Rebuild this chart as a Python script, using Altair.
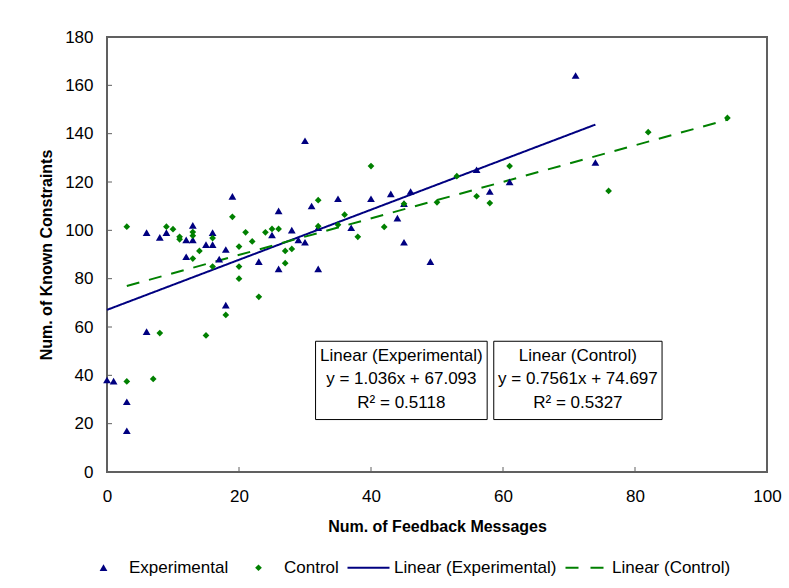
import altair as alt
import pandas as pd

# ---- data ----
exp_x = [0, 1, 3, 3, 6, 6, 8, 9, 12, 13, 13, 12, 15, 16, 16, 17, 18, 18, 19, 23, 25, 26, 26,
         28, 29, 30, 30, 31, 32, 32, 35, 37, 40, 43, 44, 45, 45, 46, 49, 56, 58, 61, 71, 74]
exp_y = [38, 37.5, 29, 17, 58, 99, 97, 99, 96, 96, 102, 89, 94, 94, 99, 88, 92, 69, 114, 87,
         98, 84, 108, 100, 96, 95, 137, 110, 84, 101, 113, 101, 113, 115, 105, 111, 95, 116,
         87, 125, 116, 120, 164, 128]

ctl_x = [3, 3, 7, 8, 15, 9, 10, 11, 11, 13, 13, 13, 14, 16, 16, 19, 18, 20, 20, 20, 21, 22,
         23, 24, 25, 26, 27, 27, 28, 32, 32, 35, 36, 38, 40, 42, 45, 50, 53, 56, 58, 61, 76,
         82, 94]
ctl_y = [101.5, 37.5, 38.5, 57.5, 56.5, 101.5, 100.5, 97.3, 96.3, 99.3, 97.8, 88.3, 91.5,
         96.8, 85, 105.6, 65, 93.3, 85, 80, 99.2, 95.4, 72.5, 99.2, 100.6, 100.6, 91.5, 86.4,
         92.3, 101.7, 112.5, 102.3, 106.5, 97.3, 126.6, 101.4, 111, 111.6, 122.4, 114.1,
         111.3, 126.6, 116.3, 140.6, 146.5]

series_names = ["Experimental", "Control", "Linear (Experimental)", "Linear (Control)"]
trend_slopes = [1.036, 0.7561]
trend_intercepts = [67.093, 74.697]

eq_titles = ["Linear (Experimental)", "Linear (Control)"]
eq_formulas = ["y = 1.036x + 67.093", "y = 0.7561x + 74.697"]
eq_r2 = ["R\u00b2 = 0.5118", "R\u00b2 = 0.5327"]

x_ticks = [0, 20, 40, 60, 80, 100]
y_ticks = [0, 20, 40, 60, 80, 100, 120, 140, 160, 180]

# ---- annotation placement (data units) ----
box_left = [31.6, 58.6]
box_right = [57.6, 84.1]
box_top = 54.1
box_bottom = 21.7
row_y = [48.2, 38.3, 28.4]

W, H = 660, 435
FONT = "Liberation Sans"

# ---- legend / marker glyphs (unit symbol space; a leading move widens the legend slot) ----
TRI = "M-5.94,0M-1.1,0.9L1.1,0.9L0,-1.0Z"
DIA = "M-5.94,0M0,-0.95L0.95,0L0,0.95L-0.95,0Z"
SOLID = "M-5.94,-0.28H5.94V0.28H-5.94Z"
DASHED = ("M-5.94,-0.28H-2.26V0.28H-5.94Z"
          "M1.13,-0.28H4.81V0.28H1.13Z")

# ---- tables ----
points = pd.DataFrame({
    "x": exp_x + ctl_x,
    "y": exp_y + ctl_y,
    "series": ["Experimental"] * len(exp_x) + ["Control"] * len(ctl_x),
})

trend_rows = []
for xs_, name, m, b in [(exp_x, series_names[2], trend_slopes[0], trend_intercepts[0]),
                        (ctl_x, series_names[3], trend_slopes[1], trend_intercepts[1])]:
    for xv in (min(xs_), max(xs_)):
        trend_rows.append({"x": xv, "y": m * xv + b, "series": name})
trend = pd.DataFrame(trend_rows)

boxes = pd.DataFrame({"x1": box_left, "x2": box_right,
                      "y1": [box_top] * 2, "y2": [box_bottom] * 2})
texts_rows = []
for i in range(2):
    cx = (box_left[i] + box_right[i]) / 2
    for t, ry in zip([eq_titles[i], eq_formulas[i], eq_r2[i]], row_y):
        texts_rows.append({"x": cx, "y": ry, "t": t})
texts = pd.DataFrame(texts_rows)

xt = pd.DataFrame({"v": x_ticks})
yt = pd.DataFrame({"v": y_ticks})

# ---- scales / legend ----
color_scale = alt.Scale(domain=series_names, range=["#000080", "#008000", "#000080", "#008000"])
shape_scale = alt.Scale(domain=series_names, range=[TRI, DIA, SOLID, DASHED])
dash_scale = alt.Scale(domain=series_names, range=[[1, 0], [1, 0], [1, 0], [13, 10]])

legend = alt.Legend(
    title=None, orient="none", legendX=-12, legendY=522, direction="horizontal",
    columns=4, labelFont=FONT, labelFontSize=17, labelColor="black", labelLimit=400,
    labelOffset=17, columnPadding=8, symbolStrokeWidth=0, symbolOpacity=1,
    symbolSize=50, padding=0,
)

xs = alt.Scale(domain=[0, 100], nice=False)
ys = alt.Scale(domain=[0, 180], nice=False)

x_axis = alt.Axis(values=x_ticks, title="Num. of Feedback Messages", grid=False, ticks=False,
                  domain=False, labelPadding=16, titlePadding=14, labelFlush=False)
y_axis = alt.Axis(values=y_ticks, title="Num. of Known Constraints", grid=False, ticks=False,
                  domain=False, labelPadding=14, titlePadding=10, labelFlush=False)

pts = alt.Chart(points).mark_point(filled=True, opacity=1, strokeWidth=0, size=50).encode(
    x=alt.X("x:Q", scale=xs, axis=x_axis),
    y=alt.Y("y:Q", scale=ys, axis=y_axis),
    color=alt.Color("series:N", scale=color_scale, legend=legend),
    shape=alt.Shape("series:N", scale=shape_scale, legend=legend),
)

lines = alt.Chart(trend).mark_line(strokeWidth=2).encode(
    x=alt.X("x:Q", scale=xs),
    y=alt.Y("y:Q", scale=ys),
    color=alt.Color("series:N", scale=color_scale, legend=legend),
    strokeDash=alt.StrokeDash("series:N", scale=dash_scale, legend=legend),
)

rects = alt.Chart(boxes).mark_rect(fill="white", stroke="black", strokeWidth=1).encode(
    x=alt.X("x1:Q", scale=xs), x2="x2:Q",
    y=alt.Y("y1:Q", scale=ys), y2="y2:Q",
)

labels = alt.Chart(texts).mark_text(font=FONT, fontSize=17, color="black",
                                    align="center", baseline="middle").encode(
    x=alt.X("x:Q", scale=xs), y=alt.Y("y:Q", scale=ys), text="t:N",
)

yticks = alt.Chart(yt).mark_rule(color="#606060", strokeWidth=1).encode(
    y=alt.Y("v:Q", scale=ys), x=alt.value(0), x2=alt.value(5),
)
xticks = alt.Chart(xt).mark_rule(color="#606060", strokeWidth=1).encode(
    x=alt.X("v:Q", scale=xs), y=alt.value(H - 5), y2=alt.value(H),
)

chart = alt.layer(yticks, xticks, lines, pts, rects, labels).properties(
    width=W, height=H,
    autosize=alt.AutoSizeParams(type="none"),
    padding={"left": 107, "top": 37, "right": 22, "bottom": 116},
    background="white",
).configure_view(
    stroke="#606060", strokeWidth=2
).configure_axis(
    labelFont=FONT, labelFontSize=17, labelColor="black",
    titleFont=FONT, titleFontSize=16, titleFontWeight="bold", titleColor="black",
)

chart.save("out.html", embed_options={"renderer": "svg", "actions": False})
